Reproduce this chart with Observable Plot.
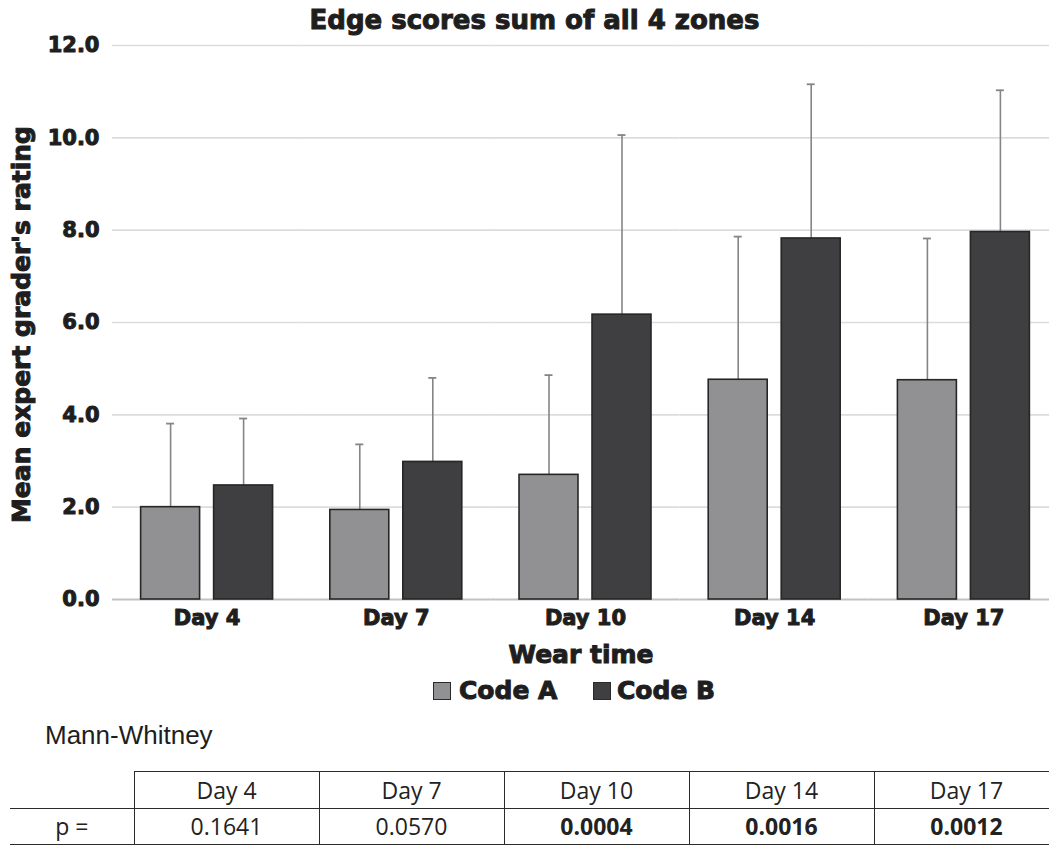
<!DOCTYPE html>
<html>
<head>
<meta charset="utf-8">
<script src="https://cdn.jsdelivr.net/npm/d3@7"></script>
<script src="https://cdn.jsdelivr.net/npm/@observablehq/plot@0.6"></script>
<style>
  html, body { margin: 0; padding: 0; background: #fff; overflow: hidden; }
  #page { position: relative; width: 1049px; height: 846px; overflow: hidden; color: #1e1e1e; }
  #page > * { position: absolute; }
  #page svg text { stroke: currentColor; stroke-width: 1px; paint-order: stroke; stroke-linejoin: round; }
  .heavy { font-family: "DejaVu Sans", sans-serif; font-weight: bold; line-height: 1; white-space: nowrap;
           -webkit-text-stroke: 1px currentColor; }
  #title { left: 0; width: 1069px; top: 7px; text-align: center; font-size: 26px; }
  #ylabel { left: -229px; top: 312px; width: 500px; height: 25px; text-align: center; font-size: 25px; transform: rotate(-90deg); transform-origin: 50% 50%; }
  #xlabel { left: 281px; width: 600px; top: 642px; text-align: center; font-size: 25px; }
  .swatch { width: 18px; height: 18px; box-sizing: border-box; border: 1.5px solid #2a2a2a; top: 682px; }
  .legtext { top: 678px; font-size: 25px; }
  #mw { left: 45px; top: 722px; font-family: "Liberation Sans", Arial, sans-serif; font-size: 26px; line-height: 1; }
  #ptable { left: 10px; top: 771px; border-collapse: collapse; table-layout: fixed; width: 1049px;
            font-family: "Open Sans", sans-serif; font-size: 23px; color: #222; }
  #ptable td { border: 1.5px solid #2b2b2b; height: 35.5px; padding: 0; text-align: center; vertical-align: middle; }
  #ptable tr:first-child td:first-child { border-top: none; border-left: none; }
  #ptable tr:nth-child(2) td:first-child { border-left: none; }
  #ptable td.sig { font-weight: 700; }
</style>
</head>
<body>
<div id="page"></div>
<script>
// Wear-time groups and the two codes compared
const days = ["Day 4", "Day 7", "Day 10", "Day 14", "Day 17"];
const codes = ["Code A", "Code B"];

// Mean expert grader's rating (sum of the 4 edge zones)
const meanA = [2.00, 1.94, 2.70, 4.76, 4.75];
const meanB = [2.47, 2.98, 6.17, 7.82, 7.96];

// Top of the error bar (mean + SD)
const upperA = [3.81, 3.36, 4.86, 7.86, 7.82];
const upperB = [3.92, 4.80, 10.06, 11.16, 11.03];

// Y axis ticks
const yTicks = [0, 2, 4, 6, 8, 10, 12];

// Mann-Whitney p-values per day
const pValues = ["0.1641", "0.0570", "0.0004", "0.0016", "0.0012"];
const pSignificant = [false, false, true, true, true];

const colorA = "#919194";
const colorB = "#3f3f41";

const rows = days.flatMap((day, i) => [
  {day, code: codes[0], mean: meanA[i], upper: upperA[i]},
  {day, code: codes[1], mean: meanB[i], upper: upperB[i]}
]);

const page = document.getElementById("page");

const chart = Plot.plot({
  width: 1058,
  height: 640,
  marginLeft: 112,
  marginRight: 0,
  marginTop: 45,
  marginBottom: 41,
  style: {fontFamily: "'DejaVu Sans', sans-serif", color: "#1e1e1e", background: "transparent", maxWidth: "none", overflow: "visible"},
  fx: {domain: days, padding: 0, round: false, label: null},
  x: {domain: codes, paddingInner: 0.192, paddingOuter: 0.392, round: false, axis: null},
  y: {domain: [0, 12], label: null},
  color: {domain: codes, range: [colorA, colorB]},
  marks: [
    Plot.gridY({ticks: yTicks.filter(d => d > 0), stroke: "#dcdcdc", strokeOpacity: 1, strokeWidth: 1.6}),
    Plot.ruleY([0], {stroke: "#c2c2c2", strokeWidth: 2}),
    Plot.ruleX(rows, {fx: "day", x: "code", y1: "mean", y2: "upper", stroke: "#858585", strokeWidth: 1.6}),
    Plot.tickY(rows, {fx: "day", x: "code", y: "upper", stroke: "#858585", strokeWidth: 1.8, insetLeft: 25.5, insetRight: 25.5}),
    Plot.barY(rows, {fx: "day", x: "code", y: "mean", fill: "code", stroke: "#262626", strokeWidth: 1.6}),
    Plot.axisY({ticks: yTicks, tickFormat: d => d.toFixed(1), tickSize: 0, tickPadding: 13, fontSize: 21, fontWeight: "bold", label: null}),
    Plot.axisFx({anchor: "bottom", tickSize: 0, tickPadding: 11, fontSize: 21, fontWeight: "bold", label: null})
  ]
});
chart.style.position = "absolute";
chart.style.left = "0px";
chart.style.top = "0px";
page.appendChild(chart);

function addDiv(id, cls, text) {
  const el = document.createElement("div");
  if (id) el.id = id;
  if (cls) el.className = cls;
  if (text != null) el.textContent = text;
  page.appendChild(el);
  return el;
}

addDiv("title", "heavy", "Edge scores sum of all 4 zones");
addDiv("ylabel", "heavy", "Mean expert grader's rating");
addDiv("xlabel", "heavy", "Wear time");

// Legend
const legendPos = [{sq: 433, tx: 459}, {sq: 593, tx: 617}];
codes.forEach((code, i) => {
  const sw = addDiv(null, "swatch");
  sw.style.left = legendPos[i].sq + "px";
  sw.style.background = i === 0 ? colorA : colorB;
  const tx = addDiv(null, "heavy legtext", code);
  tx.style.left = legendPos[i].tx + "px";
});

addDiv("mw", null, "Mann-Whitney");

// p-value table
const table = document.createElement("table");
table.id = "ptable";
const colgroup = document.createElement("colgroup");
[124, 185, 185, 185, 185, 185].forEach(w => {
  const c = document.createElement("col");
  c.style.width = w + "px";
  colgroup.appendChild(c);
});
table.appendChild(colgroup);
const head = table.insertRow();
head.insertCell().textContent = "";
days.forEach(d => { head.insertCell().textContent = d; });
const prow = table.insertRow();
prow.insertCell().textContent = "p =";
pValues.forEach((p, i) => {
  const c = prow.insertCell();
  c.textContent = p;
  if (pSignificant[i]) c.className = "sig";
});
page.appendChild(table);
</script>
</body>
</html>
